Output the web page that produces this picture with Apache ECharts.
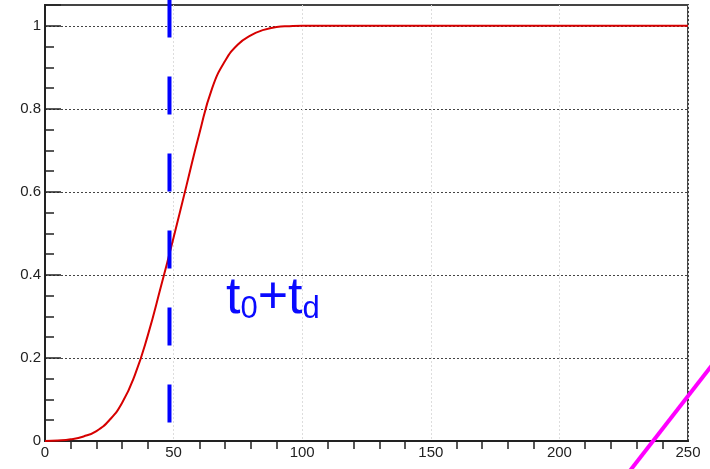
<!DOCTYPE html>
<html>
<head>
<meta charset="utf-8">
<script src="https://cdn.jsdelivr.net/npm/echarts@6/dist/echarts.min.js"></script>
<style>
  html, body { margin: 0; padding: 0; background: #fff; }
  #chart { width: 710px; height: 469px; }
</style>
</head>
<body>
<div id="chart"></div>
<script>
// curve samples
const xVals = [0, 5, 10, 15, 20, 25, 30, 35, 40, 45, 50, 55, 60, 65, 70, 75, 80, 85, 90, 95, 100, 250];
const yVals = [0, 0.001, 0.004, 0.011, 0.024, 0.05, 0.092, 0.16, 0.255, 0.37, 0.49, 0.615, 0.74, 0.85, 0.915, 0.955, 0.977, 0.99, 0.997, 0.999, 1, 1];
// t0 + td marker
const markerX = 48.4;
const markerY = [1.063, 0.043];
// stray magenta stroke in the corner
const strokeX = [225.5, 262.4];
const strokeY = [-0.087, 0.207];
const xTicks = [0, 50, 100, 150, 200, 250];
const yTicks = [0, 0.2, 0.4, 0.6, 0.8, 1];

const chart = echarts.init(document.getElementById('chart'));

const isMajorY = v => yTicks.some(t => Math.abs(t - v) < 1e-6);

chart.setOption({
  animation: false,
  backgroundColor: '#fff',
  grid: {
    left: 45, right: 22, top: 5, bottom: 28,
    show: true, borderColor: '#444', borderWidth: 2, backgroundColor: 'transparent'
  },
  xAxis: {
    type: 'value',
    min: xTicks[0], max: xTicks[xTicks.length - 1], interval: 50,
    axisLine: { lineStyle: { color: '#222', width: 2 } },
    axisTick: { show: false },
    minorTick: { show: true, splitNumber: 5, length: 8, lineStyle: { color: '#222', width: 1.5 } },
    axisLabel: { margin: 4, fontSize: 15, color: '#222', fontFamily: 'Liberation Sans' },
    splitLine: { show: true, lineStyle: { color: '#ddd', width: 1, type: [2, 2] } }
  },
  yAxis: [{
    // fine ticks + labels
    type: 'value',
    min: 0, max: 1.05, interval: 0.05,
    axisLine: { show: true, lineStyle: { color: '#222', width: 2 } },
    axisTick: { inside: true, length: 9, lineStyle: { color: '#222', width: 1.5 } },
    axisLabel: {
      margin: 4, fontSize: 15, color: '#222', fontFamily: 'Liberation Sans',
      formatter: v => (isMajorY(v) ? String(Math.round(v * 10) / 10) : '')
    },
    splitLine: { show: false }
  }, {
    // major ticks + dotted grid
    type: 'value', position: 'left', offset: 0,
    min: 0, max: 1.05, interval: 0.2,
    axisLine: { show: false },
    axisTick: { show: true, inside: true, length: 16, lineStyle: { color: '#222', width: 1.5 } },
    axisLabel: { show: false },
    splitLine: { show: true, lineStyle: { color: '#444', width: 1, type: [2, 2] } }
  }],
  graphic: [{
    id: 'label',
    type: 'text',
    x: 226, y: 325,
    style: {
      text: '{a|t}{b|0}{a|+t}{b|d}',
      verticalAlign: 'bottom',
      fill: '#0a0aff',
      rich: {
        a: { fontSize: 52, fontFamily: 'Liberation Sans', fill: '#0a0aff', verticalAlign: 'bottom' },
        b: { fontSize: 31, fontFamily: 'Liberation Sans', fill: '#0a0aff', verticalAlign: 'bottom' }
      }
    }
  }],
  series: [{
    type: 'line',
    data: xVals.map((x, i) => [x, yVals[i]]),
    smooth: true,
    showSymbol: false,
    lineStyle: { color: '#d60000', width: 2 },
    z: 3
  }, {
    type: 'line',
    data: markerY.map(y => [markerX, y]),
    showSymbol: false,
    clip: false,
    lineStyle: { color: '#0000ff', width: 4, type: [38, 39] },
    z: 4
  }]
});

// magenta stroke runs past the plot edge, so place it through the axes as a graphic
const p1 = chart.convertToPixel({ xAxisIndex: 0, yAxisIndex: 0 }, [strokeX[0], strokeY[0]]);
const p2 = chart.convertToPixel({ xAxisIndex: 0, yAxisIndex: 0 }, [strokeX[1], strokeY[1]]);
chart.setOption({
  graphic: [{
    id: 'stroke',
    type: 'line',
    z: 100,
    shape: { x1: p1[0], y1: p1[1], x2: p2[0], y2: p2[1] },
    style: { stroke: '#ff00ff', lineWidth: 4 }
  }]
});
</script>
</body>
</html>
